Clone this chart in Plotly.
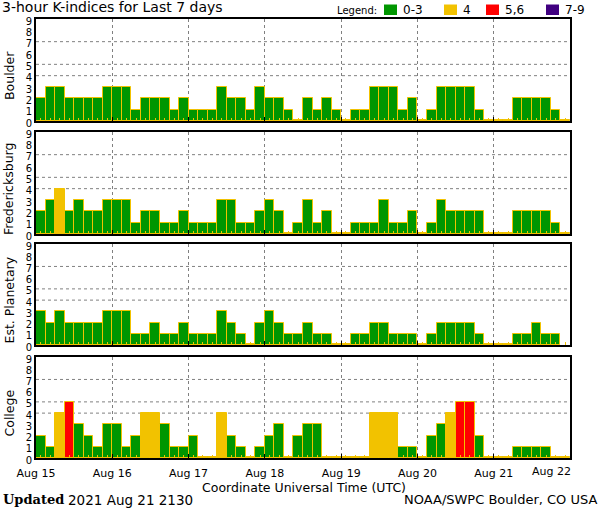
import plotly.graph_objects as go
from datetime import datetime, timedelta

# ---------------- data ----------------
stations = ["Boulder", "Fredericksburg", "Est. Planetary", "College"]

boulder = [2, 3, 3, 2, 2, 2, 2, 3,
           3, 3, 1, 2, 2, 2, 1, 2,
           1, 1, 1, 3, 2, 2, 1, 3,
           2, 2, 1, 0, 2, 1, 2, 1,
           0, 1, 1, 3, 3, 3, 1, 2,
           0, 1, 3, 3, 3, 3, 1, 0,
           0, 0, 2, 2, 2, 2, 1, 0]

fredericksburg = [2, 3, 4, 2, 3, 2, 2, 3,
                  3, 3, 1, 2, 2, 1, 1, 2,
                  1, 1, 1, 3, 3, 1, 1, 2,
                  3, 2, 0, 1, 3, 1, 2, 0,
                  0, 1, 1, 1, 3, 1, 1, 2,
                  0, 1, 3, 2, 2, 2, 2, 0,
                  0, 0, 2, 2, 2, 2, 1, 0]

est_planetary = [3, 2, 3, 2, 2, 2, 2, 3,
                 3, 3, 1, 1, 2, 1, 1, 2,
                 1, 1, 1, 3, 2, 1, 0, 2,
                 3, 2, 1, 1, 2, 1, 1, 0,
                 0, 1, 1, 2, 2, 1, 1, 1,
                 0, 1, 2, 2, 2, 2, 1, 0,
                 0, 0, 1, 1, 2, 1, 1, None]

college = [2, 1, 4, 5, 3, 2, 1, 3,
           3, 1, 2, 4, 4, 3, 1, 1,
           2, 0, 0, 4, 2, 1, 0, 1,
           2, 3, 0, 2, 3, 3, 0, 0,
           0, 0, 0, 4, 4, 4, 1, 1,
           0, 2, 3, 4, 5, 5, 2, 0,
           0, 0, 1, 1, 1, 1, 0, 0]

series = [boulder, fredericksburg, est_planetary, college]

start = datetime(2021, 8, 15)
n_bars = 56
bar_times = [start + timedelta(hours=3 * i + 1.5) for i in range(n_bars)]
day_ticks = [start + timedelta(days=d) for d in range(8)]
day_labels = ["Aug 15", "Aug 16", "Aug 17", "Aug 18", "Aug 19", "Aug 20", "Aug 21", "Aug 22"]
y_ticks = list(range(10))
grid_levels = [4, 5, 7]

legend_labels = ["0-3", "4", "5,6", "7-9"]

# ---------------- styling ----------------
GREEN = "#009600"
YELLOW = "#F2C200"
RED = "#FF0000"
PURPLE = "#400080"
legend_colors = [GREEN, YELLOW, RED, PURPLE]
FONT = "DejaVu Sans"

W, H = 600, 510
L, R, T, B = 36, 30, 19, 52
PW = W - L - R
PH = H - T - B


def px(x):
    return (x - L) / PW


def py(y):
    return (H - B - y) / PH


def kcolor(v):
    if v is None:
        return GREEN
    if v <= 3:
        return GREEN
    if v == 4:
        return YELLOW
    if v <= 6:
        return RED
    return PURPLE


# panel pixel extents (top, bottom)
panels_px = [(19, 121), (132, 234), (244, 345), (357, 458)]

fig = go.Figure()
shapes = []
annotations = []

for k, (name, vals) in enumerate(zip(stations, series)):
    idx = "" if k == 0 else str(k + 1)
    xa = "x" + idx
    ya = "y" + idx
    heights = [None if v is None else (v if v > 0 else 0.12) for v in vals]
    fig.add_trace(go.Bar(
        x=bar_times, y=heights,
        xaxis=xa, yaxis=ya,
        width=3 * 3600 * 1000,
        marker=dict(color=[kcolor(v) for v in vals],
                    line=dict(color=YELLOW, width=1)),
        customdata=vals,
        hovertemplate=name + ": Kp %{customdata}<extra></extra>",
        showlegend=False,
    ))
    top, bot = panels_px[k]
    dom = [py(bot), py(top)]
    bottom_panel = (k == len(stations) - 1)
    fig.update_layout(**{
        ("xaxis" + idx): dict(
            type="date",
            domain=[0, 1],
            anchor=ya,
            range=[day_ticks[0], day_ticks[-1]],
            tickmode="array",
            tickvals=day_ticks,
            ticktext=day_labels[:-1] + [""],
            showticklabels=bottom_panel,
            ticklabelstandoff=4,
            ticks="inside", ticklen=4, tickcolor="black",
            showgrid=True, gridcolor="#808080", griddash="dot", gridwidth=1,
            minor=dict(tick0=bar_times[0], dtick=3 * 3600 * 1000,
                       ticks="inside", ticklen=3, tickcolor=YELLOW, tickwidth=1,
                       showgrid=False),
            showline=True, linecolor="black", linewidth=2, mirror=True,
            zeroline=False,
            tickfont=dict(family=FONT, size=11, color="black"),
            matches="x" if k > 0 else None,
        ),
        ("yaxis" + idx): dict(
            domain=dom,
            anchor=xa,
            range=[0, 9],
            tickmode="array",
            tickvals=y_ticks,
            ticks="",
            showgrid=False,
            zeroline=False,
            showline=True, linecolor="black", linewidth=2, mirror=True,
            tickfont=dict(family=FONT, size=10, color="black"),
            ticklabelshift=2,
            fixedrange=True,
        ),
    })
    for lv in grid_levels:
        shapes.append(dict(type="line", xref=xa + " domain", yref=ya,
                           x0=0, x1=1, y0=lv, y1=lv, layer="below",
                           line=dict(color="#808080", width=1, dash="dot")))
    annotations.append(dict(text=name, xref="paper", yref="paper",
                            x=px(9), y=py((top + bot) / 2 + 6),
                            textangle=-90, showarrow=False,
                            xanchor="center", yanchor="middle",
                            font=dict(family=FONT, size=12.5, color="black")))

# Title
annotations.append(dict(text="3-hour K-indices for Last 7 days", xref="paper", yref="paper",
                        x=px(0), y=py(7), xanchor="left", yanchor="middle", showarrow=False,
                        font=dict(family=FONT, size=14, color="black")))
# Legend
annotations.append(dict(text="Legend:", xref="paper", yref="paper",
                        x=px(335), y=py(10.5), xanchor="left", yanchor="middle", showarrow=False,
                        font=dict(family=FONT, size=10, color="black")))
box_x = [384, 444, 486, 546]
for bx, col, lab in zip(box_x, legend_colors, legend_labels):
    shapes.append(dict(type="rect", xref="paper", yref="paper",
                       x0=px(bx), x1=px(bx + 13), y0=py(15), y1=py(4.5),
                       fillcolor=col, line=dict(width=0)))
    annotations.append(dict(text=lab, xref="paper", yref="paper",
                            x=px(bx + 17), y=py(10), xanchor="left", yanchor="middle",
                            showarrow=False,
                            font=dict(family=FONT, size=12, color="black")))
# Last day label (kept inside the figure)
annotations.append(dict(text=day_labels[-1], xref="paper", yref="paper",
                        x=px(573), y=py(471), xanchor="right", yanchor="middle",
                        showarrow=False, font=dict(family=FONT, size=11, color="black")))
# X axis title
annotations.append(dict(text="Coordinate Universal Time (UTC)", xref="paper", yref="paper",
                        x=px(304), y=py(487), xanchor="center", yanchor="middle",
                        showarrow=False, font=dict(family=FONT, size=12.5, color="black")))
# Footer
annotations.append(dict(text="<b>Updated</b>", xref="paper", yref="paper",
                        x=px(1), y=py(500), xanchor="left", yanchor="middle",
                        showarrow=False, font=dict(family="DejaVu Serif", size=13, color="black")))
annotations.append(dict(text="2021 Aug 21 2130", xref="paper", yref="paper",
                        x=px(66), y=py(500), xanchor="left", yanchor="middle",
                        showarrow=False, font=dict(family=FONT, size=13.5, color="black")))
annotations.append(dict(text="NOAA/SWPC Boulder, CO USA", xref="paper", yref="paper",
                        x=px(599), y=py(500), xanchor="right", yanchor="middle",
                        showarrow=False, font=dict(family=FONT, size=13, color="black")))

fig.update_layout(
    width=W, height=H,
    margin=dict(l=L, r=R, t=T, b=B),
    paper_bgcolor="white", plot_bgcolor="white",
    bargap=0,
    shapes=shapes,
    annotations=annotations,
    font=dict(family=FONT, color="black"),
)

fig.write_html("out.html",
               config={"displayModeBar": False},
               post_script="document.body.style.margin='0';document.body.style.overflow='hidden';")
